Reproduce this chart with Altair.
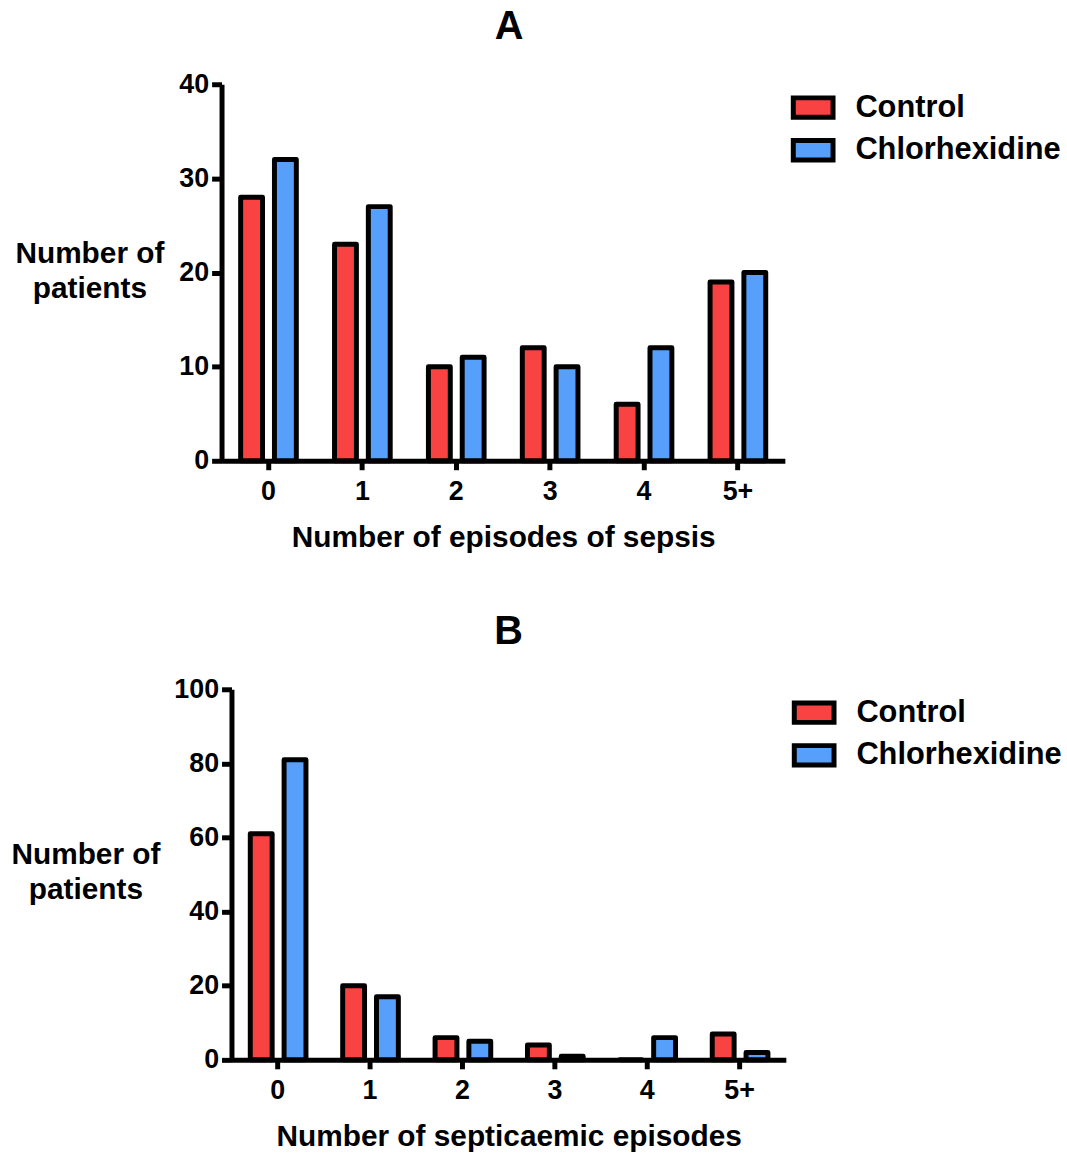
import altair as alt
import pandas as pd

# Episode categories shared by both panels
episodes = ["0", "1", "2", "3", "4", "5+"]
groups = ["Control", "Chlorhexidine"]

# Panel A: number of episodes of sepsis
sepsis_control = [28, 23, 10, 12, 6, 19]
sepsis_chlorhex = [32, 27, 11, 10, 12, 20]

# Panel B: number of septicaemic episodes
septic_control = [61, 20, 6, 4, 0, 7]
septic_chlorhex = [81, 17, 5, 1, 6, 2]

RED = "#F94343"
BLUE = "#56A0FC"
FONT = "Liberation Sans"


def long_table(control, chlorhex):
    rows = []
    for cat, c, h in zip(episodes, control, chlorhex):
        rows.append({"episodes": cat, "group": "Control", "patients": c})
        rows.append({"episodes": cat, "group": "Chlorhexidine", "patients": h})
    return pd.DataFrame(rows)


legend_symbol = "M-1,-0.49L1,-0.49L1,0.49L-1,0.49Z"


def panel(df, letter, xtitle, ymax, ystep, width, height, shift, title_dx,
          title_x, title_y, legend_x, legend_y):
    # `shift` moves the plotting rectangle right inside the panel's group
    return (
        alt.Chart(df)
        .mark_bar(stroke="black", strokeWidth=5, strokeJoin="round")
        .encode(
            x=alt.X(
                "episodes:N",
                sort=episodes,
                scale=alt.Scale(paddingInner=0.407, paddingOuter=0.2035,
                                range=[shift, shift + width]),
                axis=alt.Axis(
                    title=xtitle,
                    labelAngle=0,
                    tickSize=9,
                    labelPadding=9,
                    titlePadding=18,
                    titleFontSize=30,
                ),
            ),
            xOffset=alt.XOffset(
                "group:N",
                sort=groups,
                scale=alt.Scale(paddingInner=0.353, paddingOuter=0),
            ),
            y=alt.Y(
                "patients:Q",
                scale=alt.Scale(domain=[0, ymax], nice=False),
                axis=alt.Axis(
                    values=list(range(0, ymax + 1, ystep)),
                    offset=-shift,
                    title=["Number of", "patients"],
                    titleAngle=0,
                    titleAlign="center",
                    titleBaseline="middle",
                    titleX=title_x,
                    titleY=title_y,
                    titleFontSize=30,
                    titleLineHeight=36,
                    tickSize=10,
                    labelPadding=3,
                ),
            ),
            color=alt.Color(
                "group:N",
                sort=groups,
                scale=alt.Scale(domain=groups, range=[RED, BLUE]),
                legend=alt.Legend(
                    title=None,
                    orient="none",
                    legendX=legend_x,
                    legendY=legend_y,
                    symbolType=legend_symbol,
                    symbolSize=1600,
                    symbolStrokeColor="black",
                    symbolStrokeWidth=5,
                    symbolOpacity=1,
                    labelFont=FONT,
                    labelFontSize=31,
                    labelFontWeight="bold",
                    labelColor="black",
                    labelOffset=20,
                    labelLimit=400,
                    rowPadding=0,
                    padding=0,
                ),
            ),
        )
        .properties(
            width=width + shift,
            height=height,
            title=alt.TitleParams(
                letter,
                font=FONT,
                fontSize=40,
                fontWeight="bold",
                color="black",
                anchor="middle",
                frame="group",
                dx=title_dx,
                offset=24,
            ),
        )
    )


top = panel(long_table(sepsis_control, sepsis_chlorhex), "A",
            "Number of episodes of sepsis", 40, 10, 567, 379, 0, 6,
            -133, 170, 573, 1)
bottom = panel(long_table(septic_control, septic_chlorhex), "B",
               "Number of septicaemic episodes", 100, 20, 558, 373, 10, 5,
               -147, 166, 574, 1)

chart = (
    alt.vconcat(top, bottom, spacing=60)
    .resolve_scale(color="independent")
    .configure_view(stroke=None)
    .configure_axis(
        domainColor="black",
        domainWidth=5,
        tickColor="black",
        tickWidth=5,
        grid=False,
        labelFont=FONT,
        labelFontSize=27,
        labelFontWeight="bold",
        labelColor="black",
        titleFont=FONT,
        titleFontWeight="bold",
        titleColor="black",
    )
    .properties(padding={"left": 11, "top": 3, "right": 5, "bottom": 5})
)

chart.save("out.html", embed_options={"renderer": "svg", "actions": False})
